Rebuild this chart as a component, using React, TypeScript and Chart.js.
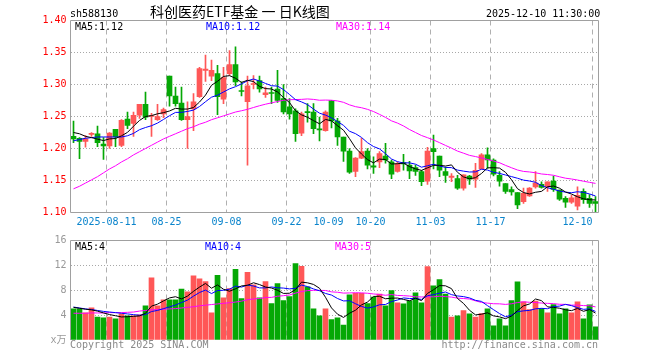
import React, { useEffect, useRef } from 'react';
import { Chart, registerables } from 'chart.js';

Chart.register(...registerables);

// ---- DATA ----
const dates = [
  '2025-08-01', '2025-08-04', '2025-08-05', '2025-08-06', '2025-08-07', '2025-08-08',
  '2025-08-11', '2025-08-12', '2025-08-13', '2025-08-14', '2025-08-15',
  '2025-08-18', '2025-08-19', '2025-08-20', '2025-08-21', '2025-08-22',
  '2025-08-25', '2025-08-26', '2025-08-27', '2025-08-28', '2025-08-29',
  '2025-09-01', '2025-09-02', '2025-09-03', '2025-09-04', '2025-09-05',
  '2025-09-08', '2025-09-09', '2025-09-10', '2025-09-11', '2025-09-12',
  '2025-09-15', '2025-09-16', '2025-09-17', '2025-09-18', '2025-09-19',
  '2025-09-22', '2025-09-23', '2025-09-24', '2025-09-25', '2025-09-26',
  '2025-09-29', '2025-09-30', '2025-10-09', '2025-10-10',
  '2025-10-13', '2025-10-14', '2025-10-15', '2025-10-16', '2025-10-17',
  '2025-10-20', '2025-10-21', '2025-10-22', '2025-10-23', '2025-10-24',
  '2025-10-27', '2025-10-28', '2025-10-29', '2025-10-30', '2025-10-31',
  '2025-11-03', '2025-11-04', '2025-11-05', '2025-11-06', '2025-11-07',
  '2025-11-10', '2025-11-11', '2025-11-12', '2025-11-13', '2025-11-14',
  '2025-11-17', '2025-11-18', '2025-11-19', '2025-11-20', '2025-11-21',
  '2025-11-24', '2025-11-25', '2025-11-26', '2025-11-27', '2025-11-28',
  '2025-12-01', '2025-12-02', '2025-12-03', '2025-12-04', '2025-12-05',
  '2025-12-08', '2025-12-09', '2025-12-10',
];

const opens = [
  1.219, 1.216, 1.211, 1.222, 1.223, 1.207, 1.204, 1.230, 1.205, 1.246,
  1.239, 1.252, 1.269, 1.250, 1.245, 1.254, 1.313, 1.282, 1.271, 1.245,
  1.262, 1.281, 1.322, 1.313, 1.317, 1.277, 1.317, 1.331, 1.290, 1.273,
  1.300, 1.306, 1.284, 1.287, 1.293, 1.278, 1.265, 1.259, 1.224, 1.257,
  1.257, 1.230, 1.228, 1.275, 1.243, 1.218, 1.196, 1.164, 1.185, 1.196,
  1.173, 1.179, 1.188, 1.179, 1.164, 1.178, 1.174, 1.170, 1.164, 1.149,
  1.200, 1.188, 1.164, 1.155, 1.153, 1.138, 1.157, 1.152, 1.168, 1.190,
  1.182, 1.158, 1.145, 1.136, 1.131, 1.117, 1.126, 1.140, 1.144, 1.140,
  1.149, 1.135, 1.122, 1.116, 1.110, 1.133, 1.122, 1.117,
];

const highs = [
  1.243, 1.217, 1.220, 1.225, 1.235, 1.217, 1.225, 1.230, 1.245, 1.257,
  1.257, 1.269, 1.288, 1.255, 1.269, 1.263, 1.313, 1.296, 1.296, 1.273,
  1.286, 1.327, 1.346, 1.338, 1.330, 1.327, 1.353, 1.359, 1.304, 1.313,
  1.314, 1.313, 1.296, 1.296, 1.322, 1.300, 1.278, 1.262, 1.257, 1.270,
  1.270, 1.249, 1.259, 1.275, 1.247, 1.218, 1.200, 1.186, 1.216, 1.200,
  1.187, 1.195, 1.208, 1.182, 1.179, 1.191, 1.180, 1.174, 1.166, 1.202,
  1.221, 1.188, 1.171, 1.161, 1.158, 1.159, 1.158, 1.177, 1.192, 1.201,
  1.184, 1.164, 1.145, 1.140, 1.131, 1.138, 1.139, 1.164, 1.148, 1.148,
  1.157, 1.135, 1.125, 1.127, 1.140, 1.137, 1.128, 1.125,
];

const lows = [
  1.209, 1.184, 1.202, 1.219, 1.203, 1.183, 1.200, 1.203, 1.203, 1.231,
  1.219, 1.247, 1.245, 1.219, 1.244, 1.248, 1.266, 1.266, 1.244, 1.200,
  1.228, 1.280, 1.305, 1.306, 1.253, 1.270, 1.314, 1.298, 1.282, 1.174,
  1.293, 1.288, 1.280, 1.270, 1.272, 1.254, 1.246, 1.211, 1.220, 1.241,
  1.223, 1.212, 1.227, 1.232, 1.205, 1.180, 1.161, 1.156, 1.184, 1.168,
  1.161, 1.170, 1.177, 1.153, 1.163, 1.166, 1.153, 1.158, 1.142, 1.144,
  1.168, 1.156, 1.147, 1.148, 1.136, 1.135, 1.144, 1.139, 1.168, 1.169,
  1.157, 1.141, 1.130, 1.127, 1.106, 1.114, 1.125, 1.138, 1.138, 1.133,
  1.133, 1.119, 1.108, 1.114, 1.104, 1.114, 1.108, 1.100,
];

const closes = [
  1.215, 1.211, 1.215, 1.223, 1.209, 1.204, 1.224, 1.218, 1.244, 1.236,
  1.252, 1.269, 1.249, 1.251, 1.250, 1.261, 1.282, 1.270, 1.245, 1.250,
  1.273, 1.325, 1.324, 1.322, 1.281, 1.311, 1.331, 1.304, 1.289, 1.298,
  1.301, 1.293, 1.287, 1.286, 1.275, 1.257, 1.254, 1.223, 1.254, 1.256,
  1.231, 1.229, 1.257, 1.243, 1.218, 1.196, 1.163, 1.185, 1.195, 1.174,
  1.171, 1.192, 1.182, 1.160, 1.176, 1.176, 1.165, 1.164, 1.148, 1.196,
  1.195, 1.166, 1.158, 1.157, 1.138, 1.159, 1.152, 1.166, 1.190, 1.182,
  1.160, 1.149, 1.133, 1.132, 1.112, 1.130, 1.138, 1.146, 1.139, 1.148,
  1.136, 1.121, 1.116, 1.123, 1.127, 1.120, 1.114, 1.114,
];

// volume in 万
const volumes = [
  5.0, 5.0, 4.35, 5.16, 3.7, 3.55, 3.7, 3.39, 4.2, 3.87,
  3.87, 4.03, 5.48, 9.98, 5.48, 6.45, 6.45, 6.45, 8.2, 7.74,
  10.3, 9.84, 9.4, 4.35, 10.4, 6.8, 8.27, 11.35, 6.65, 10.9,
  8.86, 6.8, 9.4, 5.84, 9.08, 6.32, 6.97, 12.3, 11.84, 8.54,
  5.03, 3.9, 5.03, 3.27, 3.55, 2.4, 7.26, 7.5, 7.5, 5.86,
  6.9, 7.4, 5.5, 7.96, 5.97, 5.8, 6.3, 7.6, 5.97, 11.8,
  8.7, 9.7, 7.4, 3.7, 3.87, 4.73, 4.2, 3.7, 4.25, 5.0,
  2.26, 3.39, 2.26, 6.34, 9.35, 6.13, 4.9, 6.24, 5.05, 4.35,
  5.7, 4.2, 5.0, 4.35, 6.13, 3.39, 5.65, 2.1,
];

// moving-average values before a full window is available
const ma5Head = [1.225, 1.223, 1.219, 1.217];
const ma10Head = [1.212, 1.214, 1.216, 1.217, 1.218, 1.218, 1.218, 1.218, 1.218];
const ma30Head = [
  1.137, 1.141, 1.146, 1.151, 1.156, 1.162, 1.168, 1.173, 1.179, 1.184,
  1.190, 1.195, 1.200, 1.205, 1.210, 1.215, 1.219, 1.223, 1.227, 1.231,
  1.234, 1.238, 1.241, 1.245, 1.248, 1.251, 1.254, 1.257, 1.259,
];
const volMa5Head = [5.25, 5.1, 4.95, 4.85];
const volMa10Head = [5.3, 5.15, 5.0, 4.9, 4.75, 4.6, 4.5, 4.4, 4.3];
const volMa30Head = [
  4.3, 4.3, 4.3, 4.35, 4.35, 4.35, 4.4, 4.4, 4.4, 4.45,
  4.5, 4.65, 4.75, 4.85, 4.9, 4.95, 5.0, 5.05, 5.15, 5.25,
  5.35, 5.5, 5.6, 5.7, 5.8, 5.9, 6.0, 6.1, 6.25,
];

const labelIndex = [6, 16, 26, 36, 43, 50, 60, 70, 87];
const gridIndex = [6, 16, 26, 36, 50, 60, 70, 87];
const priceTicks = { min: 1.1, max: 1.4, step: 0.05 };
const volTicks = { min: 0, max: 16, step: 4 };
const priceMaLabels = ['MA5:1.12', 'MA10:1.12', 'MA30:1.14'];
const volMaLabels = ['MA5:4', 'MA10:4', 'MA30:5'];
const stockCode = 'sh588130';
const title = '科创医药ETF基金 一 日K线图';
const timestamp = '2025-12-10 11:30:00';
const copyright = 'Copyright 2025 SINA.COM';
const siteUrl = 'http://finance.sina.com.cn';

// ---- STYLE ----
const RED = '#ff5757';
const GREEN = '#05a805';
const MA_COLORS = ['#000000', '#0000ff', '#ff00ff'];
const MONO = "'DejaVu Sans Mono', 'Noto Sans CJK SC', monospace";
const GRID_H = '#a8a8a8';
const GRID_V = '#b0b0b0';
const FRAME = '#a0a0a0';

function movingAverage(values: number[], n: number, head: number[]) {
  return values.map((_, i) => {
    if (i < n - 1) return head[i];
    let s = 0;
    for (let k = i - n + 1; k <= i; k++) s += values[k];
    return s / n;
  });
}

const isUp = closes.map((c, i) => c >= opens[i]);
const candleColors = isUp.map((u) => (u ? RED : GREEN));

function framePlugin(id: string, sides: { bottom: boolean }) {
  return {
    id,
    afterDatasetsDraw(chart: any) {
      const { ctx, chartArea: a } = chart;
      ctx.save();
      ctx.strokeStyle = FRAME;
      ctx.lineWidth = 1;
      ctx.beginPath();
      ctx.moveTo(a.left, a.bottom);
      ctx.lineTo(a.left, a.top);
      ctx.lineTo(a.right, a.top);
      ctx.lineTo(a.right, a.bottom);
      if (sides.bottom) ctx.lineTo(a.left, a.bottom);
      ctx.stroke();
      ctx.restore();
    },
  };
}

const topTextPlugin = {
  id: 'topText',
  afterDraw(chart: any) {
    const ctx = chart.ctx;
    ctx.save();
    ctx.textBaseline = 'alphabetic';
    ctx.textAlign = 'left';
    ctx.fillStyle = '#000';
    ctx.font = `10px ${MONO}`;
    ctx.fillText(stockCode, 70, 17);
    ctx.fillText(timestamp, 486, 17);
    ctx.font = "14px 'Noto Sans CJK SC', sans-serif";
    ctx.fillText(title, 150, 17);
    ctx.font = `10px ${MONO}`;
    const xs = [75, 206, 336];
    priceMaLabels.forEach((t, i) => {
      ctx.fillStyle = MA_COLORS[i];
      ctx.fillText(t, xs[i], 30);
    });
    ctx.restore();
  },
};

const volTextPlugin = {
  id: 'volText',
  afterDraw(chart: any) {
    const ctx = chart.ctx;
    ctx.save();
    ctx.textBaseline = 'alphabetic';
    ctx.font = `10px ${MONO}`;
    const xs = [75, 205, 335];
    volMaLabels.forEach((t, i) => {
      ctx.fillStyle = MA_COLORS[i];
      ctx.textAlign = 'left';
      ctx.fillText(t, xs[i], 19.5);
    });
    ctx.fillStyle = '#8a8a8a';
    ctx.textAlign = 'left';
    ctx.fillText(copyright, 70, 118);
    ctx.textAlign = 'right';
    ctx.fillText(siteUrl, 598, 118);
    ctx.restore();
  },
};

function xGridColor(ctx: any) {
  return gridIndex.includes(ctx.index) ? GRID_V : 'transparent';
}

export default function App() {
  const topRef = useRef<HTMLCanvasElement>(null);
  const volRef = useRef<HTMLCanvasElement>(null);

  useEffect(() => {
    const ma5 = movingAverage(closes, 5, ma5Head);
    const ma10 = movingAverage(closes, 10, ma10Head);
    const ma30 = movingAverage(closes, 30, ma30Head);
    const vma5 = movingAverage(volumes, 5, volMa5Head);
    const vma10 = movingAverage(volumes, 10, volMa10Head);
    const vma30 = movingAverage(volumes, 30, volMa30Head);

    const lineDs = (data: number[], color: string, order: number) => ({
      type: 'line' as const,
      data,
      borderColor: color,
      borderWidth: 1,
      pointRadius: 0,
      tension: 0,
      fill: false,
      order,
    });

    const tickFont = { family: MONO, size: 10 };

    const top = new Chart(topRef.current as HTMLCanvasElement, {
      type: 'bar',
      data: {
        labels: dates,
        datasets: [
          {
            type: 'bar',
            data: lows.map((l, i) => [l, highs[i]]) as any,
            backgroundColor: candleColors,
            barThickness: 1,
            grouped: false,
            borderWidth: 0,
            order: 5,
          },
          {
            type: 'bar',
            data: opens.map((o, i) => [o, closes[i]]) as any,
            backgroundColor: candleColors,
            barThickness: 5,
            minBarLength: 1,
            grouped: false,
            borderWidth: 0,
            order: 4,
          },
          lineDs(ma30, MA_COLORS[2], 2),
          lineDs(ma10, MA_COLORS[1], 1),
          lineDs(ma5, MA_COLORS[0], 0),
        ] as any,
      },
      options: {
        responsive: false,
        animation: false,
        devicePixelRatio: 1,
        layout: { padding: { left: 0.5, top: 20.5, right: 61.5, bottom: 0 } },
        plugins: { legend: { display: false }, tooltip: { enabled: false } },
        scales: {
          x: {
            type: 'category',
            offset: true,
            grid: { offset: true, color: xGridColor, drawTicks: false, lineWidth: 1 },
            border: { display: false, dash: [5, 4] },
            ticks: {
              autoSkip: false,
              maxRotation: 0,
              minRotation: 0,
              align: 'inner',
              labelOffset: -3,
              padding: 4,
              color: '#0a84cc',
              font: tickFont,
              callback: (_v: any, i: number) =>
                labelIndex.includes(i) ? (i === labelIndex[0] ? dates[i] : dates[i].slice(5)) : '',
            },
            afterFit: (s: any) => {
              s.height = 22.5;
            },
          },
          y: {
            min: priceTicks.min,
            max: priceTicks.max,
            grid: {
              drawTicks: false,
              color: (c: any) =>
                c.tick && c.tick.value > priceTicks.min + 0.001 && c.tick.value < priceTicks.max - 0.001
                  ? GRID_H
                  : 'transparent',
            },
            border: { display: false, dash: [1, 2] },
            ticks: {
              stepSize: priceTicks.step,
              color: '#ff0000',
              font: tickFont,
              padding: 4,
              callback: (v: any) => Number(v).toFixed(2),
            },
            afterFit: (s: any) => {
              s.width = 70;
            },
          },
        },
      } as any,
      plugins: [framePlugin('topFrame', { bottom: true }), topTextPlugin],
    });

    const vol = new Chart(volRef.current as HTMLCanvasElement, {
      type: 'bar',
      data: {
        labels: dates,
        datasets: [
          {
            type: 'bar',
            data: volumes,
            backgroundColor: candleColors,
            barThickness: 5,
            borderWidth: 0,
            order: 4,
          },
          lineDs(vma30, MA_COLORS[2], 2),
          lineDs(vma10, MA_COLORS[1], 1),
          lineDs(vma5, MA_COLORS[0], 0),
        ] as any,
      },
      options: {
        responsive: false,
        animation: false,
        devicePixelRatio: 1,
        layout: { padding: { left: 0.5, top: 10.5, right: 61.5, bottom: 20 } },
        plugins: { legend: { display: false }, tooltip: { enabled: false } },
        scales: {
          x: {
            type: 'category',
            offset: true,
            grid: { offset: true, color: xGridColor, drawTicks: false, lineWidth: 1 },
            border: { display: false, dash: [5, 4] },
            ticks: { display: false },
            afterFit: (s: any) => {
              s.height = 0;
            },
          },
          y: {
            min: volTicks.min,
            max: volTicks.max,
            grid: {
              drawTicks: false,
              color: (c: any) =>
                c.tick && c.tick.value > volTicks.min && c.tick.value < volTicks.max ? GRID_H : 'transparent',
            },
            border: { display: false, dash: [1, 2] },
            ticks: {
              stepSize: volTicks.step,
              color: '#999999',
              font: tickFont,
              padding: 4,
              callback: (v: any) => (Number(v) === 0 ? 'x万' : String(v)),
            },
            afterFit: (s: any) => {
              s.width = 70;
            },
          },
        },
      } as any,
      plugins: [framePlugin('volFrame', { bottom: false }), volTextPlugin],
    });

    return () => {
      top.destroy();
      vol.destroy();
    };
  }, []);

  return (
    <div style={{ position: 'absolute', left: 0, top: 0, width: 660, height: 360, background: '#fff' }}>
      <canvas
        ref={topRef}
        width={660}
        height={235}
        style={{ position: 'absolute', left: 0, top: 0, width: 660, height: 235 }}
      />
      <canvas
        ref={volRef}
        width={660}
        height={130}
        style={{ position: 'absolute', left: 0, top: 230, width: 660, height: 130 }}
      />
    </div>
  );
}
